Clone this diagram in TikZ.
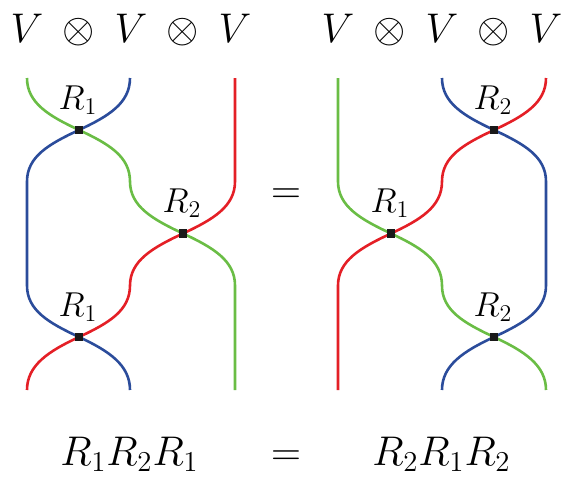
\documentclass[tikz,border=0pt]{standalone}
\definecolor{sgreen}{RGB}{106,189,69}
\definecolor{sblue}{RGB}{43,76,155}
\definecolor{sred}{RGB}{228,31,38}
\tikzset{
  strand/.style={line width=1.3pt},
  xing/.style={rectangle, fill=black!90, minimum size=4.2pt, inner sep=0pt, draw=none},
  lab/.style={font=\fontsize{17.5}{20}\selectfont, anchor=base, inner sep=0pt},
  big/.style={font=\fontsize{20}{24}\selectfont, anchor=base, inner sep=0pt},
  op/.style={font=\fontsize{19.5}{22}\selectfont, anchor=base, inner sep=0pt},
}
\begin{document}
\begin{tikzpicture}[x=0.5pt,y=-0.5pt]
\useasboundingbox (0,0) rectangle (564,477);
% crossings
\coordinate (c1) at (79,130);
\coordinate (c2) at (183,233.5);
\coordinate (c3) at (79,337);
\coordinate (d1) at (494,130);
\coordinate (d2) at (391,233.5);
\coordinate (d3) at (494,337);
% left diagram
\draw[strand, sgreen] (27,78) .. controls +(0,25) and +(-30,-14) .. (c1)
  .. controls +(30,14) and +(0,-25) .. (130,181.5)
  .. controls +(0,25) and +(-30,-14) .. (c2)
  .. controls +(30,14) and +(0,-25) .. (235,285.5) -- (235,390);
\draw[strand, sblue] (130,78) .. controls +(0,25) and +(30,-14) .. (c1)
  .. controls +(-30,14) and +(0,-25) .. (27,181.5) -- (27,285.5)
  .. controls +(0,25) and +(-30,-14) .. (c3)
  .. controls +(30,14) and +(0,-25) .. (130,390);
\draw[strand, sred] (235,78) -- (235,181.5)
  .. controls +(0,25) and +(30,-14) .. (c2)
  .. controls +(-30,14) and +(0,-25) .. (130,285.5)
  .. controls +(0,25) and +(30,-14) .. (c3)
  .. controls +(-30,14) and +(0,-25) .. (27,390);
% right diagram
\draw[strand, sgreen] (338,78) -- (338,181.5)
  .. controls +(0,25) and +(-30,-14) .. (d2)
  .. controls +(30,14) and +(0,-25) .. (442,285.5)
  .. controls +(0,25) and +(-30,-14) .. (d3)
  .. controls +(30,14) and +(0,-25) .. (546,390);
\draw[strand, sblue] (442,78) .. controls +(0,25) and +(-30,-14) .. (d1)
  .. controls +(30,14) and +(0,-25) .. (546,181.5) -- (546,285.5)
  .. controls +(0,25) and +(30,-14) .. (d3)
  .. controls +(-30,14) and +(0,-25) .. (442,390);
\draw[strand, sred] (546,78) .. controls +(0,25) and +(30,-14) .. (d1)
  .. controls +(-30,14) and +(0,-25) .. (442,181.5)
  .. controls +(0,25) and +(30,-14) .. (d2)
  .. controls +(-30,14) and +(0,-25) .. (338,285.5) -- (338,390);
% crossing markers
\foreach \c in {c1,c2,c3,d1,d2,d3} \node[xing] (m\c) at (\c) {};
% crossing labels
\node[lab] (l1) at (78,109) {$R_1$};
\node[lab] (l2) at (182,212.5) {$R_2$};
\node[lab] (l3) at (78,316) {$R_1$};
\node[lab] (l4) at (493,109) {$R_2$};
\node[lab] (l5) at (390,212.5) {$R_1$};
\node[lab] (l6) at (493,316) {$R_2$};
% top labels
\foreach \x [count=\i] in {27,131,235,338,442,546}
  \node[big] (v\i) at (\x,42) {$V$};
\foreach \x [count=\i] in {79,183,390,494}
  \node[op] (o\i) at (\x,42) {$\otimes$};
% equals
\node[big] (eq) at (286,203) {$=$};
% bottom formula
\node[big] (b1) at (129.5,465) {$R_1R_2R_1$};
\node[big] (b2) at (286,465) {$=$};
\node[big] (b3) at (441.5,465) {$R_2R_1R_2$};
\end{tikzpicture}
\end{document}
